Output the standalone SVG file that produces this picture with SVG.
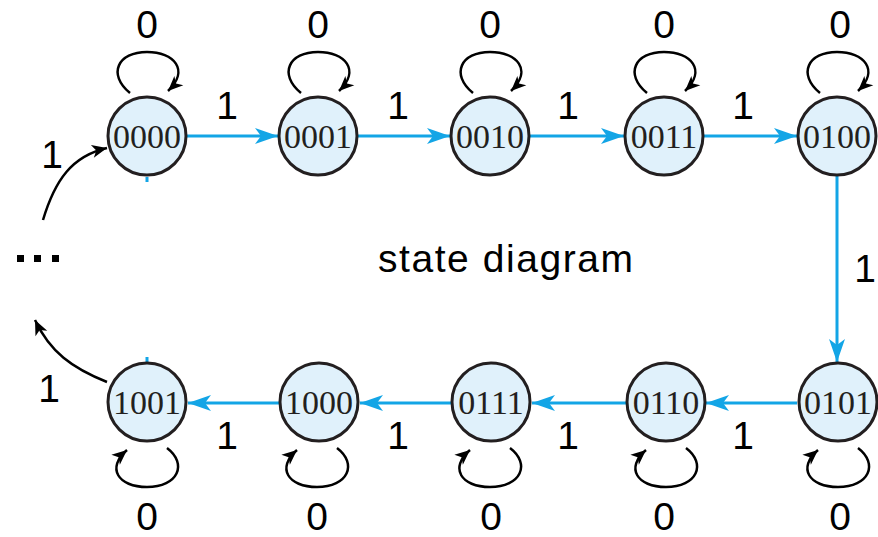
<svg xmlns="http://www.w3.org/2000/svg" width="878" height="537" viewBox="0 0 878 537">
<style>
.node circle{fill:#e0f1fb;stroke:#231f20;stroke-width:3}
.node text{font-family:"Liberation Serif","Times New Roman",serif;font-size:34px;fill:#231f20;text-anchor:middle}
.lbl{font-family:"Liberation Sans",Arial,sans-serif;font-size:39px;fill:#000;text-anchor:middle}
.title{font-family:"Liberation Sans",Arial,sans-serif;font-size:39px;fill:#000}
.blue{stroke:#13a5e6;stroke-width:3;fill:none}
.blk{stroke:#000;stroke-width:2.5;fill:none}
</style>
<defs>
<marker id="ab" markerUnits="userSpaceOnUse" markerWidth="30" markerHeight="20" viewBox="-24 -10 26 20" refX="0" refY="0" orient="auto">
<path d="M-23,-8 L0,0 L-23,8 L-17,0 Z" fill="#13a5e6"/>
</marker>
<marker id="ak" markerUnits="userSpaceOnUse" markerWidth="20" markerHeight="16" viewBox="-16 -8 18 16" refX="0" refY="0" orient="auto">
<path d="M-15,-6.5 L0,0 L-15,6.5 L-11,0 Z" fill="#000"/>
</marker>
</defs>
<g id="connectors">
<line class="blue" x1="187" y1="136" x2="278" y2="136" marker-end="url(#ab)"/>
<line class="blue" x1="358" y1="136" x2="450" y2="136" marker-end="url(#ab)"/>
<line class="blue" x1="530" y1="136" x2="624" y2="136" marker-end="url(#ab)"/>
<line class="blue" x1="704" y1="136" x2="797" y2="136" marker-end="url(#ab)"/>
<line class="blue" x1="837" y1="176" x2="837" y2="362" marker-end="url(#ab)"/>
<line class="blue" x1="797" y1="403" x2="706" y2="403" marker-end="url(#ab)"/>
<line class="blue" x1="626" y1="403" x2="532" y2="403" marker-end="url(#ab)"/>
<line class="blue" x1="452" y1="403" x2="360" y2="403" marker-end="url(#ab)"/>
<line class="blue" x1="280" y1="403" x2="188" y2="403" marker-end="url(#ab)"/>
<line class="blue" x1="147" y1="177" x2="147" y2="182"/>
<line class="blue" x1="147" y1="357" x2="147" y2="362"/>
<path class="blk" d="M43,220 C55,180 72,156 107,148" marker-end="url(#ak)"/>
<path class="blk" d="M107,382 C72,368 50,352 35,320" marker-end="url(#ak)"/>
<path class="blk" d="M130,93 C107,74 118,52 147,52 C174,52 190,70 168,91" marker-end="url(#ak)"/>
<path class="blk" d="M301,93 C278,74 289,52 318,52 C345,52 361,70 339,91" marker-end="url(#ak)"/>
<path class="blk" d="M473,93 C450,74 461,52 490,52 C517,52 533,70 511,91" marker-end="url(#ak)"/>
<path class="blk" d="M647,93 C624,74 635,52 664,52 C691,52 707,70 685,91" marker-end="url(#ak)"/>
<path class="blk" d="M820,93 C797,74 808,52 837,52 C864,52 880,70 858,91" marker-end="url(#ak)"/>
<path class="blk" d="M167,448 C188,464 178,487 147,487 C118,487 106,468 127,450" marker-end="url(#ak)"/>
<path class="blk" d="M337,448 C358,464 348,487 317,487 C288,487 276,468 297,450" marker-end="url(#ak)"/>
<path class="blk" d="M510,448 C531,464 521,487 490,487 C461,487 449,468 470,450" marker-end="url(#ak)"/>
<path class="blk" d="M686,448 C707,464 697,487 666,487 C637,487 625,468 646,450" marker-end="url(#ak)"/>
<path class="blk" d="M858,448 C879,464 869,487 838,487 C809,487 797,468 818,450" marker-end="url(#ak)"/>
</g>
<g id="n0000" class="node"><circle cx="147" cy="136" r="39"/><text x="147" y="148">0000</text></g>
<g id="n0001" class="node"><circle cx="318" cy="136" r="39"/><text x="318" y="148">0001</text></g>
<g id="n0010" class="node"><circle cx="490" cy="136" r="39"/><text x="490" y="148">0010</text></g>
<g id="n0011" class="node"><circle cx="664" cy="136" r="39"/><text x="664" y="148">0011</text></g>
<g id="n0100" class="node"><circle cx="837" cy="136" r="39"/><text x="837" y="148">0100</text></g>
<g id="n0101" class="node"><circle cx="838" cy="402" r="39"/><text x="838" y="414">0101</text></g>
<g id="n0110" class="node"><circle cx="666" cy="402" r="39"/><text x="666" y="414">0110</text></g>
<g id="n0111" class="node"><circle cx="491" cy="402" r="39"/><text x="491" y="414">0111</text></g>
<g id="n1000" class="node"><circle cx="319" cy="402" r="39"/><text x="319" y="414">1000</text></g>
<g id="n1001" class="node"><circle cx="147" cy="402" r="39"/><text x="147" y="414">1001</text></g>
<g id="labels">
<text class="lbl" x="147" y="38">0</text>
<text class="lbl" x="318" y="38">0</text>
<text class="lbl" x="490" y="38">0</text>
<text class="lbl" x="664" y="38">0</text>
<text class="lbl" x="840" y="38">0</text>
<text class="lbl" x="147" y="530">0</text>
<text class="lbl" x="317" y="530">0</text>
<text class="lbl" x="491" y="530">0</text>
<text class="lbl" x="664" y="530">0</text>
<text class="lbl" x="840" y="530">0</text>
<text class="lbl" x="227" y="119">1</text>
<text class="lbl" x="398" y="119">1</text>
<text class="lbl" x="568" y="119">1</text>
<text class="lbl" x="743" y="119">1</text>
<text class="lbl" x="865" y="282">1</text>
<text class="lbl" x="743" y="449">1</text>
<text class="lbl" x="568" y="449">1</text>
<text class="lbl" x="398" y="449">1</text>
<text class="lbl" x="227" y="449">1</text>
<text class="lbl" x="52" y="168">1</text>
<text class="lbl" x="49" y="402">1</text>
<text class="title" x="378" y="272" textLength="255" lengthAdjust="spacing">state diagram</text>
<rect x="17" y="255" width="7" height="7"/>
<rect x="34" y="255" width="7" height="7"/>
<rect x="52" y="255" width="7" height="7"/>
</g>
</svg>
